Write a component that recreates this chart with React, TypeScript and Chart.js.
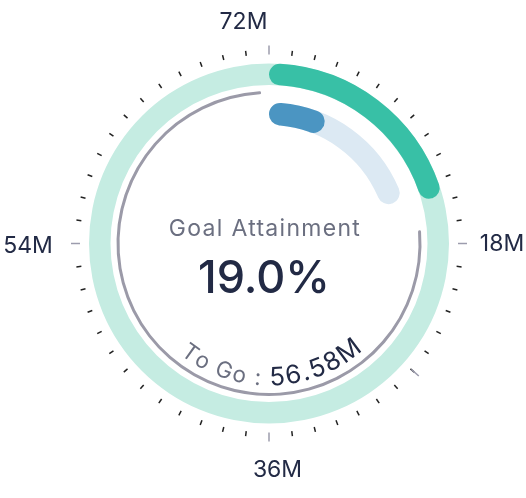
import React, { useEffect, useRef } from "react";
import { Chart, registerables } from "chart.js";

Chart.register(...registerables);

// ---- data (values in millions) ----
const scaleMax = 72;
const achieved = 14.9;
const toGo = 56.58;
const attainmentText = "19.0%";
const centerTitle = "Goal Attainment";
const innerProgress = 5.0;
const innerTrack = 14.4;
const remainingArc = [17.0, 71.4]; // start / end of the "to go" guide arc
const markerValue = 26.3;
const tickCount = 52;
const axisValues = [0, 18, 36, 54];
const axisLabels = ["72M", "18M", "36M", "54M"];

// ---- styles ----
const FONT = "Inter, 'Open Sans', sans-serif";
const NAVY = "#222a45";
const GREYTXT = "#6b6f80";
const TEAL = "#38c0a6";
const TEAL_LIGHT = "#c5ece2";
const BLUE = "#4b95c2";
const BLUE_LIGHT = "#dce9f3";
const GUIDE = "#9b9aa8";
const T = "rgba(0,0,0,0)";

const OUTER_R = 180;
// ring weights (px)
const W_OUTER = 21.5;
const W_GAP1 = 6;
const W_GUIDE = 3;
const W_GAP2 = 8.5;
const W_INNER = 22.5;
const INNER_R = OUTER_R - (W_OUTER + W_GAP1 + W_GUIDE + W_GAP2 + W_INNER);

const labelOffsets: [number, number][] = [
  [-25.5, -214.5],
  [233, 7.5],
  [8.5, 233.5],
  [-241, 9.5],
];

function spacer(weight: number) {
  return { data: [scaleMax], backgroundColor: [T], borderWidth: 0, weight };
}

function baseOptions() {
  return {
    responsive: false,
    animation: false as const,
    events: [] as any[],
    radius: OUTER_R,
    cutout: `${(INNER_R / OUTER_R) * 100}%`,
    layout: { padding: { left: 12, right: 0, top: 0, bottom: 11 } },
    plugins: { legend: { display: false }, tooltip: { enabled: false } },
  };
}

function drawCurved(
  ctx: CanvasRenderingContext2D,
  cx: number,
  cy: number,
  R: number,
  centerDeg: number,
  spanDeg: number,
  parts: { text: string; font: string; color: string }[]
) {
  const chars: { ch: string; font: string; color: string; w: number }[] = [];
  parts.forEach((p) => {
    ctx.font = p.font;
    for (const ch of p.text) chars.push({ ch, font: p.font, color: p.color, w: ctx.measureText(ch).width });
  });
  const natural = chars.reduce((s, c) => s + c.w, 0);
  const target = ((spanDeg * Math.PI) / 180) * R;
  const gap = (target - natural) / (chars.length - 1);
  let theta = (centerDeg * Math.PI) / 180 + target / 2 / R;
  for (const c of chars) {
    const a = theta - c.w / 2 / R;
    const x = cx + R * Math.sin(a);
    const y = cy - R * Math.cos(a);
    ctx.save();
    ctx.translate(x, y);
    ctx.rotate(a - Math.PI);
    ctx.font = c.font;
    ctx.fillStyle = c.color;
    ctx.textAlign = "center";
    ctx.textBaseline = "alphabetic";
    ctx.fillText(c.ch, 0, 0);
    ctx.restore();
    theta -= (c.w + gap) / R;
  }
}

const overlayPlugin = {
  id: "gaugeOverlay",
  afterDraw(chart: any) {
    const ctx: CanvasRenderingContext2D = chart.ctx;
    const arc = chart.getDatasetMeta(0).data[0];
    const cx = arc.x;
    const cy = arc.y;
    const R = arc.outerRadius;
    ctx.save();
    // ticks
    ctx.lineCap = "butt";
    for (let i = 0; i < tickCount; i++) {
      const major = i % (tickCount / 4) === 0;
      const a = (i / tickCount) * Math.PI * 2;
      const r0 = R + 9;
      const r1 = major ? R + 18 : R + 14;
      ctx.strokeStyle = major ? "#9c9cad" : "#222";
      ctx.lineWidth = 1.5;
      ctx.beginPath();
      ctx.moveTo(cx + r0 * Math.sin(a), cy - r0 * Math.cos(a));
      ctx.lineTo(cx + r1 * Math.sin(a), cy - r1 * Math.cos(a));
      ctx.stroke();
    }
    // marker
    {
      const a = (markerValue / scaleMax) * Math.PI * 2;
      const r0 = R + 10;
      const r1 = R + 20;
      ctx.strokeStyle = "#9c9cad";
      ctx.lineWidth = 1.5;
      ctx.beginPath();
      ctx.moveTo(cx + r0 * Math.sin(a), cy - r0 * Math.cos(a));
      ctx.lineTo(cx + r1 * Math.sin(a), cy - r1 * Math.cos(a));
      ctx.stroke();
    }
    // axis labels
    ctx.font = `400 23px ${FONT}`;
    ctx.fillStyle = NAVY;
    ctx.textAlign = "center";
    ctx.textBaseline = "alphabetic";
    axisValues.forEach((v, i) => {
      const [dx, dy] = labelOffsets[i];
      ctx.fillText(axisLabels[i], cx + dx, cy + dy);
    });
    // center texts
    ctx.font = `400 23px ${FONT}`;
    ctx.fillStyle = GREYTXT;
    (ctx as any).letterSpacing = "1.3px";
    ctx.fillText(centerTitle, cx - 4, cy - 7.5);
    (ctx as any).letterSpacing = "0px";
    ctx.font = `500 45px ${FONT}`;
    ctx.fillStyle = NAVY;
    ctx.fillText(attainmentText, cx - 5, cy + 49.5);
    // curved "to go"
    drawCurved(ctx, cx, cy, 142, 178.75, 80, [
      { text: "To Go : ", font: `400 22.5px ${FONT}`, color: GREYTXT },
      { text: `${toGo.toFixed(2)}M`, font: `400 25.5px ${FONT}`, color: NAVY },
    ]);
    ctx.restore();
  },
};

export default function App() {
  const backRef = useRef<HTMLCanvasElement>(null);
  const frontRef = useRef<HTMLCanvasElement>(null);

  useEffect(() => {
    const back = new Chart(backRef.current!, {
      type: "doughnut",
      data: {
        datasets: [
          { data: [scaleMax], backgroundColor: [TEAL_LIGHT], borderWidth: 0, weight: W_OUTER },
          spacer(W_GAP1),
          {
            data: [remainingArc[0], remainingArc[1] - remainingArc[0], scaleMax - remainingArc[1]],
            backgroundColor: [T, GUIDE, T],
            borderWidth: 0,
            borderRadius: [0, 1.5, 0],
            weight: W_GUIDE,
          },
          spacer(W_GAP2),
          {
            data: [innerTrack, scaleMax - innerTrack],
            backgroundColor: [BLUE_LIGHT, T],
            borderWidth: 0,
            borderRadius: [12, 0],
            weight: W_INNER,
          },
        ] as any,
      },
      options: baseOptions() as any,
    });
    const front = new Chart(frontRef.current!, {
      type: "doughnut",
      data: {
        datasets: [
          {
            data: [achieved, scaleMax - achieved],
            backgroundColor: [TEAL, T],
            borderWidth: 0,
            borderRadius: [11, 0],
            weight: W_OUTER,
          },
          spacer(W_GAP1),
          spacer(W_GUIDE),
          spacer(W_GAP2),
          {
            data: [innerProgress, scaleMax - innerProgress],
            backgroundColor: [BLUE, T],
            borderWidth: 0,
            borderRadius: [12, 0],
            weight: W_INNER,
          },
        ] as any,
      },
      options: baseOptions() as any,
      plugins: [overlayPlugin],
    });
    return () => {
      back.destroy();
      front.destroy();
    };
  }, []);

  const cs: React.CSSProperties = { position: "absolute", left: 0, top: 0 };
  return (
    <div style={{ position: "fixed", left: 0, top: 0, width: 526, height: 498, background: "#fff" }}>
      <canvas ref={backRef} width={526} height={498} style={cs} />
      <canvas ref={frontRef} width={526} height={498} style={cs} />
    </div>
  );
}
